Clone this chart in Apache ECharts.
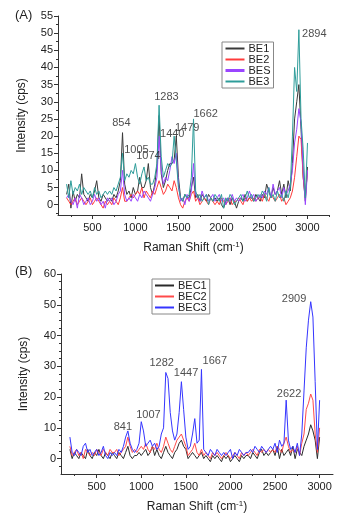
<!DOCTYPE html>
<html><head><meta charset="utf-8">
<script src="https://cdn.jsdelivr.net/npm/echarts@6/dist/echarts.min.js"></script>
<style>html,body{margin:0;padding:0;background:#fff}#c{width:355px;height:527px}</style>
</head><body><div id="c"></div>
<script>
// Raman shift grid (cm-1), shared by both panels
const ramanShift = [
 200,225,250,275,300,325,350,375,400,425,
 450,475,500,525,550,575,600,625,650,675,
 700,725,750,775,800,825,850,875,900,925,
 950,975,1000,1025,1050,1075,1100,1125,1150,1175,
 1200,1225,1250,1275,1300,1325,1350,1375,1400,1425,
 1450,1475,1500,1525,1550,1575,1600,1625,1650,1675,
 1700,1725,1750,1775,1800,1825,1850,1875,1900,1925,
 1950,1975,2000,2025,2050,2075,2100,2125,2150,2175,
 2200,2225,2250,2275,2300,2325,2350,2375,2400,2425,
 2450,2475,2500,2525,2550,2575,2600,2625,2650,2675,
 2700,2725,2750,2775,2800,2825,2850,2875,2900,2925,
 2950,2975,3000];

// Panel (A)
const BE1 = [
 3,6,-1,4,1,3,2,9,3,2,
 1,3,2,4,7,2,1,3,2,1,
 2,1,3,2,4,7,21,6,3,4,
 2,5,3,4,8,5,5,7,12,5,
 3,6,11,26,9,5,7,10,12,12,
 13,20,8,2,1,3,2,2,5,8,
 2,3,1,3,2,1,3,2,1,2,
 1,2,0,-1,1,2,0,2,1,-1,
 1,2,1,3,1,2,2,1,3,2,
 1,3,2,6,4,2,5,3,4,7,
 3,6,2,7,4,12,25,30,35,22,
 8,1,11];
const BE2 = [
 2,1,0,1,2,0,1,2,1,0,
 1,2,0,1,2,1,0,-1,1,0,
 1,0,2,1,0,2,5,1,1,2,
 3,2,3,4,3,5,2,4,3,2,
 4,3,5,7,5,3,4,6,5,4,
 7,5,2,0,-1,1,2,1,3,4,
 1,2,0,1,2,1,0,2,1,0,
 1,0,2,1,0,1,2,0,1,1,
 2,1,0,2,1,2,1,2,1,2,
 2,1,3,2,1,3,2,1,2,3,
 1,2,0,1,2,4,8,14,20,19,
 8,2,10];
const BES = [
 2,3,1,0,2,-1,3,2,0,1,
 2,0,1,3,1,2,0,1,-1,2,
 1,2,0,1,3,4,10,3,1,2,
 1,3,2,1,3,2,4,3,2,1,
 3,5,8,20,10,6,8,7,10,14,
 12,15,6,1,2,0,3,1,4,12,
 3,2,1,4,2,3,1,2,3,1,
 2,3,1,2,0,2,1,3,1,2,
 1,2,3,1,2,4,2,3,1,2,
 3,2,4,3,5,2,6,3,4,5,
 2,5,3,4,6,10,18,22,28,24,
 10,0,10];
const BE3 = [
 6,2,7,3,5,4,6,3,5,4,
 3,4,2,5,3,4,2,3,4,3,
 4,3,5,4,6,8,15,7,9,8,
 10,9,12,8,6,9,11,7,8,6,
 6,8,12,29,14,8,10,12,11,12,
 20,13,5,2,1,3,2,3,8,25,
 4,2,3,1,2,3,0,2,1,3,
 2,1,3,-1,2,1,3,2,0,1,
 2,3,1,2,4,2,3,1,2,3,
 2,4,3,1,5,2,3,1,4,2,
 3,1,4,2,5,20,40,33,51,25,
 16,2,18];

// Panel (B)
const BEC1 = [
 3,0,2,1,0,2,1,0,3,1,
 0,2,1,3,1,0,2,1,0,2,
 1,0,2,1,0,2,4,1,0,1,
 1,2,1,2,3,1,2,4,1,3,
 1,0,2,4,2,1,0,2,3,5,
 6,4,3,0,1,2,1,0,1,2,
 0,1,0,-1,1,0,1,0,-1,1,
 0,1,-1,0,1,0,-1,1,0,1,
 1,0,2,1,0,2,3,1,2,1,
 2,3,1,4,0,3,1,2,3,1,
 4,0,3,2,1,4,6,8,11,9,
 6,0,7];
const BEC2 = [
 4,1,2,3,1,2,0,3,2,1,
 2,1,3,2,1,3,2,1,3,2,
 2,3,1,2,3,4,7,4,2,3,
 2,3,4,3,5,3,2,4,3,5,
 3,2,4,7,5,3,2,4,6,7,
 8,6,4,1,2,3,5,2,1,3,
 1,2,1,0,2,1,2,1,0,1,
 2,1,0,1,2,1,0,2,1,2,
 1,2,3,2,1,3,2,3,2,3,
 2,3,2,4,3,2,5,7,4,2,
 3,2,4,1,5,8,16,18,21,19,
 8,2,10];
const BEC3 = [
 7,2,1,3,2,1,4,5,2,3,
 1,2,3,1,2,4,1,0,2,1,
 2,1,3,2,4,7,9,5,3,2,
 3,5,12,9,4,5,6,4,5,3,
 4,8,10,28,26,15,9,6,8,15,
 25,16,7,3,4,8,13,5,6,29,
 3,2,1,3,2,1,3,2,1,2,
 1,2,3,0,2,1,3,2,1,2,
 2,3,2,4,3,2,4,3,2,3,
 4,3,5,2,6,4,5,19,6,3,
 4,2,5,1,8,22,36,45,51,46,
 25,3,19];

// Tick labels
const xTickLabels = [500,1000,1500,2000,2500,3000];
const xMinorTicksA = [250,750,1250,1750,2250,2750,3250];
const xMinorTicksB = [250,750,1250,1750,2250,2750];
const yTickLabelsA = [0,5,10,15,20,25,30,35,40,45,50,55];
const yMinorTicksA = [-2.5,2.5,7.5,12.5,17.5,22.5,27.5,32.5,37.5,42.5,47.5,52.5];
const yTickLabelsB = [0,10,20,30,40,50,60];
const yMinorTicksB = [-2.5,2.5,5,7.5,12.5,15,17.5,22.5,25,27.5,32.5,35,37.5,42.5,45,47.5,52.5,55,57.5];

// Peak annotations: [shift, intensity, text]
const peaksA = [[837,23.8,'854'],[1012,16,'1005'],[1151,14.1,'1074'],[1360,31.3,'1283'],
  [1428,20.6,'1440'],[1602,22.3,'1479'],[1817,26.5,'1662'],[3079,49.8,'2894']];
const peaksB = [[794,10.3,'841'],[1081,14.3,'1007'],[1229,31.1,'1282'],[1502,27.8,'1447'],
  [1825,31.6,'1667'],[2657,21.1,'2622'],[2713,51.9,'2909']];

const FONT = '"Liberation Sans", Arial, sans-serif';
const AX = '#333';
const plain = v => String(v);
function zip(xs, ys){ return xs.map((x,i)=>[x, ys[i]]); }

function xAxes(grid, max, minor){
  return [{
    gridIndex: grid, type:'value', min:100, max:max, position:'bottom',
    axisLine:{show:true, onZero:false, lineStyle:{color:AX, width:1}},
    axisTick:{show:true, length:4, customValues:xTickLabels, lineStyle:{color:AX}},
    axisLabel:{customValues:xTickLabels, formatter:plain, margin:7, fontSize:11, color:'#222', fontFamily:FONT},
    splitLine:{show:false},
    name:'Raman Shift (cm{sup|-1})', nameLocation:'middle', nameGap:26,
    nameTextStyle:{fontSize:12, color:'#222', fontFamily:FONT,
      rich:{sup:{fontSize:8, color:'#222', fontFamily:FONT, padding:[0,0,6,0]}}}
  },{
    gridIndex: grid, type:'value', min:100, max:max, position:'bottom',
    axisLine:{show:false, onZero:false},
    axisTick:{show:true, length:2, customValues:minor, lineStyle:{color:AX}},
    axisLabel:{show:false}, splitLine:{show:false}
  }];
}
function yAxes(grid, min, max, labels, minor, gap){
  return [{
    gridIndex: grid, type:'value', min:min, max:max, position:'left',
    axisLine:{show:true, onZero:false, lineStyle:{color:AX, width:1}},
    axisTick:{show:true, length:4, customValues:labels, lineStyle:{color:AX}},
    axisLabel:{customValues:labels, formatter:plain, margin:5, fontSize:11, color:'#222', fontFamily:FONT},
    splitLine:{show:false},
    name:'Intensity (cps)', nameLocation:'middle', nameGap:gap,
    nameTextStyle:{fontSize:12, color:'#222', fontFamily:FONT}
  },{
    gridIndex: grid, type:'value', min:min, max:max, position:'left',
    axisLine:{show:false, onZero:false},
    axisTick:{show:true, length:2, customValues:minor, lineStyle:{color:AX}},
    axisLabel:{show:false}, splitLine:{show:false}
  }];
}
function lineSeries(name, xi, ys, color){
  return {name:name, type:'line', xAxisIndex:xi, yAxisIndex:xi, data:zip(ramanShift, ys),
    symbol:'none', showSymbol:false, lineStyle:{color:color, width:1}, itemStyle:{color:color},
    animation:false};
}
function peakSeries(xi, peaks){
  return {type:'scatter', xAxisIndex:xi, yAxisIndex:xi, data:peaks, symbolSize:0, silent:true, z:10,
    label:{show:true, position:'inside', formatter:p=>p.value[2], fontSize:11, color:'#222', fontFamily:FONT},
    animation:false};
}

const legendBase = {orient:'vertical', itemGap:0, itemWidth:19, itemHeight:12,
  borderColor:'#888', borderWidth:1, backgroundColor:'#fff', padding:[1,3,1,2],
  itemStyle:{opacity:0, borderWidth:0},
  textStyle:{fontSize:11, color:'#222', fontFamily:FONT, padding:[0,0,0,-1]}, selectedMode:false};

const option = {
  animation:false,
  backgroundColor:'#fff',
  grid:[
    {left:58, top:16, width:271, height:199},
    {left:61, top:274, width:272, height:200}
  ],
  xAxis:[...xAxes(0,3250,xMinorTicksA), ...xAxes(1,3150,xMinorTicksB)],
  yAxis:[...yAxes(0,-3,55,yTickLabelsA,yMinorTicksA,30), ...yAxes(1,-5,60,yTickLabelsB,yMinorTicksB,31)],
  legend:[
    Object.assign({}, legendBase, {left:222, top:42,
      data:['BE1','BE2',{name:'BES', lineStyle:{width:3}},'BE3']}),
    Object.assign({}, legendBase, {left:152, top:279,
      data:['BEC1','BEC2','BEC3']})
  ],
  graphic:[
    {type:'text', left:15, top:9, style:{text:'(A)', fontSize:13, fill:'#222', fontFamily:FONT}},
    {type:'text', left:15, top:265, style:{text:'(B)', fontSize:13, fill:'#222', fontFamily:FONT}}
  ],
  series:[
    lineSeries('BE1',0,BE1,'#3a3a3a'),
    lineSeries('BE2',0,BE2,'#ff3b3b'),
    lineSeries('BES',0,BES,'#9a45ff'),
    lineSeries('BE3',0,BE3,'#2e9d9a'),
    peakSeries(0,peaksA),
    lineSeries('BEC1',2,BEC1,'#2a2a2a'),
    lineSeries('BEC2',2,BEC2,'#ff4a4a'),
    lineSeries('BEC3',2,BEC3,'#3535ff'),
    peakSeries(2,peaksB)
  ]
};
const chart = echarts.init(document.getElementById('c'));
chart.setOption(option);
</script>
</body></html>
